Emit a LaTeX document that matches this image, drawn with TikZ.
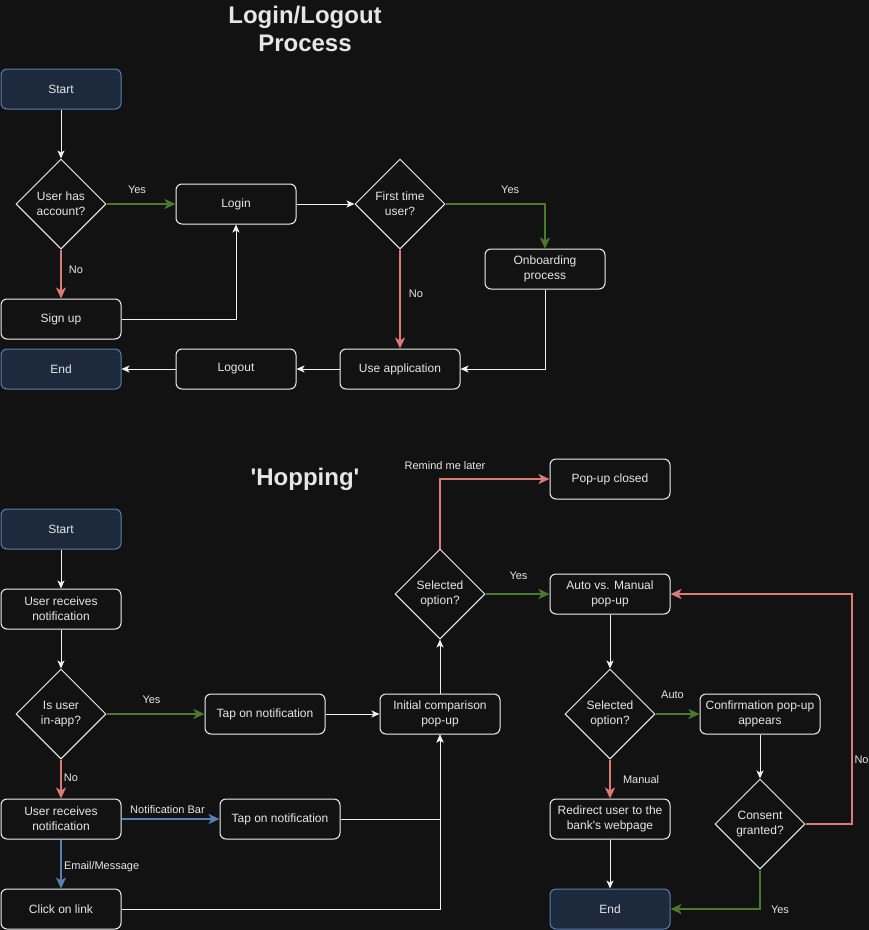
\documentclass[tikz,border=0pt]{standalone}
\usepackage{fontspec}
\setmainfont{Liberation Sans}
\usetikzlibrary{shapes.geometric, arrows.meta}
\definecolor{fondo}{HTML}{121212}
\definecolor{linea}{HTML}{F0F0F0}
\definecolor{texto}{HTML}{E6E6E6}
\definecolor{azulfondo}{HTML}{1D2A3E}
\definecolor{azulborde}{HTML}{5A7DB2}
\definecolor{verde}{HTML}{4A7A2C}
\definecolor{rojo}{HTML}{DC7A76}
\definecolor{azul}{HTML}{5A7FB6}
\tikzstyle{caja} = [draw=linea, line width=1pt, rectangle, rounded corners=6pt, minimum width=120pt, minimum height=40pt, inner sep=2pt, text=texto, align=center, font=\fontsize{12}{15}\selectfont]
\tikzstyle{extremo} = [caja, draw=azulborde, fill=azulfondo]
\tikzstyle{decision} = [draw=linea, line width=1pt, diamond, minimum width=90pt, minimum height=90pt, inner sep=0pt, text=texto, align=center, font=\fontsize{12}{15}\selectfont]
\tikzstyle{flecha} = [draw=linea, line width=1pt, -{Stealth[length=8pt, width=7pt, inset=2pt]}]
\tikzstyle{flechasi} = [draw=verde, line width=2pt, -{Stealth[length=11pt, width=10pt, inset=3pt]}]
\tikzstyle{flechano} = [flechasi, draw=rojo]
\tikzstyle{flechaazul} = [flechasi, draw=azul]
\tikzstyle{etiqueta} = [text=texto, inner sep=2pt, font=\fontsize{11}{13}\selectfont]
\tikzstyle{titulo} = [text=texto, align=center, font=\bfseries\fontsize{24}{28}\selectfont]

\begin{document}
\begin{tikzpicture}[x=1pt, y=-1pt]
		\fill[fondo] (0,0) rectangle (869,930);
		\useasboundingbox (0,0) rectangle (869,930);

		% Login/Logout
		\node[titulo] (titulo1) at (305,29) {Login/Logout\\Process};
		\node[extremo] (inicio1) at (61,89) {Start};
		\node[decision] (cuenta) at (61,204) {User has\\account?};
		\node[caja] (login) at (236,204) {Login};
		\node[decision] (primera) at (400,204) {First time\\user?};
		\node[caja] (onboarding) at (545,269) {Onboarding\\process};
		\node[caja] (signup) at (61,319) {Sign up};
		\node[extremo] (fin1) at (61,369) {End};
		\node[caja] (logout) at (236,369) {Logout};
		\node[caja] (usar) at (400,369) {Use application};

		\draw[flecha] (inicio1) -- (cuenta);
		\draw[flechasi] (cuenta.east) -- (login.west) node[etiqueta, midway, xshift=-4pt, yshift=14pt] {Yes};
		\draw[flechano] (cuenta.south) -- (signup.north) node[etiqueta, midway, xshift=15pt, yshift=4pt] {No};
		\draw[flecha] (signup.east) -| (login.south);
		\draw[flecha] (login.east) -- (primera.west);
		\draw[flechasi] (primera.east) -| (onboarding.north) node[etiqueta, pos=0.325, yshift=14pt] {Yes};
		\draw[flechano] (primera.south) -- (usar.north) node[etiqueta, midway, xshift=16pt, yshift=5pt] {No};
		\draw[flecha] (onboarding.south) |- (usar.east);
		\draw[flecha] (usar.west) -- (logout.east);
		\draw[flecha] (logout.west) -- (fin1.east);

		% Hopping
		\node[titulo] (titulo2) at (305,479) {\textquotesingle Hopping\textquotesingle};
		\node[extremo] (inicio2) at (61,529) {Start};
		\node[caja] (recibe1) at (61,609) {User receives\\notification};
		\node[decision] (enapp) at (61,714) {Is user\\in-app?};
		\node[caja] (toque1) at (265,714) {Tap on notification};
		\node[caja] (inicial) at (440,714) {Initial comparison\\pop-up};
		\node[decision] (opcion1) at (440,594) {Selected\\option?};
		\node[caja] (cerrado) at (610,479) {Pop-up closed};
		\node[caja] (automan) at (610,594) {Auto vs. Manual\\pop-up};
		\node[decision] (opcion2) at (610,714) {Selected\\option?};
		\node[caja] (confirma) at (760,714) {Confirmation pop-up\\appears};
		\node[decision] (consent) at (760,824) {Consent\\granted?};
		\node[caja] (redirige) at (610,819) {Redirect user to the\\bank\textquotesingle s webpage};
		\node[extremo] (fin2) at (610,909) {End};
		\node[caja] (recibe2) at (61,819) {User receives\\notification};
		\node[caja] (toque2) at (280,819) {Tap on notification};
		\node[caja] (enlace) at (61,909) {Click on link};

		\draw[flecha] (inicio2) -- (recibe1);
		\draw[flecha] (recibe1) -- (enapp);
		\draw[flechasi] (enapp.east) -- (toque1.west) node[etiqueta, midway, xshift=-4pt, yshift=14pt] {Yes};
		\draw[flechano] (enapp.south) -- (recibe2.north) node[etiqueta, midway, xshift=10pt, yshift=1pt] {No};
		\draw[flechaazul] (recibe2.east) -- (toque2.west) node[etiqueta, midway, xshift=-3pt, yshift=9pt] {Notification Bar};
		\draw[flechaazul] (recibe2.south) -- (enlace.north) node[etiqueta, midway, right, yshift=-3pt] {Email/Message};
		\draw[flecha] (toque1.east) -- (inicial.west);
		\draw[flecha] (toque2.east) -| (inicial.south);
		\draw[flecha] (enlace.east) -| (inicial.south);
		\draw[flecha] (inicial.north) -- (opcion1.south);
		\draw[flechano] (opcion1.north) |- (cerrado.west) node[etiqueta, pos=0.5, xshift=5pt, yshift=13pt] {Remind me later};
		\draw[flechasi] (opcion1.east) -- (automan.west) node[etiqueta, midway, xshift=1pt, yshift=18pt] {Yes};
		\draw[flecha] (automan.south) -- (opcion2.north);
		\draw[flechasi] (opcion2.east) -- (confirma.west) node[etiqueta, midway, xshift=-5pt, yshift=19pt] {Auto};
		\draw[flechano] (opcion2.south) -- (redirige.north) node[etiqueta, midway, right, xshift=10pt, yshift=-1pt] {Manual};
		\draw[flecha] (confirma.south) -- (consent.north);
		\draw[flechano] (consent.east) -- ++(46,0) |- (automan.east) node[etiqueta, pos=0.14, right] {No};
		\draw[flechasi] (consent.south) |- (fin2.east) node[etiqueta, pos=0.5, right, xshift=8pt, yshift=-1pt] {Yes};
		\draw[flecha] (redirige.south) -- (fin2.north);
	\end{tikzpicture}
\end{document}
